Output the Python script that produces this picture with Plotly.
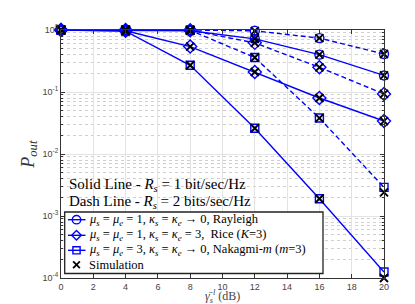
import plotly.graph_objects as go

snr_db = [0, 4, 8, 12, 16, 20]
ray_r1 = [1.0, 0.99, 0.97, 0.72, 0.40, 0.185]
ray_r2 = [1.0, 1.0, 1.0, 0.97, 0.74, 0.41]
rice_r1 = [1.0, 0.97, 0.54, 0.21, 0.080, 0.034]
rice_r2 = [1.0, 1.0, 0.99, 0.62, 0.25, 0.093]
nak_r1 = [1.0, 0.96, 0.27, 0.026, 0.0019, 1.25e-4]
nak_r2 = [1.0, 1.0, 0.99, 0.36, 0.038, 0.0029]
sim_nak_r1 = [1.0, 0.96, 0.27, 0.026, 0.0019, 1.0e-4]
sim_nak_r2 = [1.0, 1.0, 0.99, 0.36, 0.038, 0.0024]

legend_labels = [
    "<i>μ<sub>s</sub></i> = <i>μ<sub>e</sub></i> = 1, <i>κ<sub>s</sub></i> = <i>κ<sub>e</sub></i> → 0, Rayleigh",
    "<i>μ<sub>s</sub></i> = <i>μ<sub>e</sub></i> = 1, <i>κ<sub>s</sub></i> = <i>κ<sub>e</sub></i> = 3,  Rice (<i>K</i>=3)",
    "<i>μ<sub>s</sub></i> = <i>μ<sub>e</sub></i> = 3, <i>κ<sub>s</sub></i> = <i>κ<sub>e</sub></i> → 0, Nakagmi-<i>m</i> (<i>m</i>=3)",
    "Simulation",
]
symbols = ["circle-open", "diamond-open", "square-open"]
sizes = [9, 10, 8]

BLUE = "#0000FF"
SERIF = "Liberation Serif, DejaVu Serif, serif"
LW = 1.4

fig = go.Figure()

series = [(ray_r1, ray_r2), (rice_r1, rice_r2), (nak_r1, nak_r2)]
for (r1, r2), sym, sz, lab in zip(series, symbols, sizes, legend_labels):
    for vals, dash in ((r1, "solid"), (r2, "5px,3px")):
        fig.add_trace(go.Scatter(
            x=snr_db, y=vals, mode="lines+markers", name=lab, showlegend=False,
            line=dict(color=BLUE, width=LW, dash=dash),
            marker=dict(symbol=sym, size=sz, color=BLUE, line=dict(width=LW, color=BLUE)),
            cliponaxis=False))

sims = [ray_r1, ray_r2, rice_r1, rice_r2, sim_nak_r1, sim_nak_r2]
for s in sims:
    fig.add_trace(go.Scatter(
        x=snr_db, y=s, mode="markers", name=legend_labels[3], showlegend=False,
        marker=dict(symbol="x-thin-open", size=8, color="black", line=dict(width=1.9, color="black")),
        cliponaxis=False))

# ---- hand-drawn legend box, in pixel units over the plot area (x2/y2 overlay) ----
PW, PH = 323, 248
rows = [189.7, 205.3, 220.3, 234.7]
MX = 15.5
shapes = []
shapes.append(dict(type="rect", x0=3.7, x1=262, y0=182, y1=243.5,
                   line=dict(color="#222", width=1.3), fillcolor="white"))
for i in range(3):
    shapes.append(dict(type="line", x0=7, x1=24.5, y0=rows[i], y1=rows[i],
                       line=dict(color=BLUE, width=LW)))
r = 4.2
shapes.append(dict(type="circle", x0=MX - r, x1=MX + r, y0=rows[0] - r, y1=rows[0] + r,
                   line=dict(color=BLUE, width=LW), fillcolor="rgba(0,0,0,0)"))
d = 4.8
shapes.append(dict(type="path",
                   path=f"M {MX},{rows[1]-d} L {MX+d},{rows[1]} L {MX},{rows[1]+d} L {MX-d},{rows[1]} Z",
                   line=dict(color=BLUE, width=LW), fillcolor="rgba(0,0,0,0)"))
s = 3.6
shapes.append(dict(type="rect", x0=MX - s, x1=MX + s, y0=rows[2] - s, y1=rows[2] + s,
                   line=dict(color=BLUE, width=LW), fillcolor="rgba(0,0,0,0)"))
c = 3.4
shapes.append(dict(type="line", x0=MX - c, x1=MX + c, y0=rows[3] - c, y1=rows[3] + c,
                   line=dict(color="black", width=1.8)))
shapes.append(dict(type="line", x0=MX - c, x1=MX + c, y0=rows[3] + c, y1=rows[3] - c,
                   line=dict(color="black", width=1.8)))
for shp in shapes:
    fig.add_shape(xref="x2", yref="y2", layer="above", **shp)
for lab, ry in zip(legend_labels, rows):
    fig.add_annotation(text=lab, xref="x2", yref="y2", x=25.5, y=ry, xanchor="left",
                       yanchor="middle", showarrow=False,
                       font=dict(family=SERIF, size=12.5, color="black"))
# invisible anchor trace so the overlay axes exist
fig.add_trace(go.Scatter(x=[0, PW], y=[0, PH], xaxis="x2", yaxis="y2", mode="markers",
                         marker=dict(opacity=0), showlegend=False, hoverinfo="skip"))

fig.update_layout(
    width=415, height=304,
    margin=dict(l=53, r=39, t=22, b=34),
    paper_bgcolor="white", plot_bgcolor="white",
    showlegend=False,
    font=dict(family="Liberation Sans, Arial, sans-serif", size=9, color="#444"),
    xaxis2=dict(overlaying="x", range=[0, PW], visible=False, fixedrange=True),
    yaxis2=dict(overlaying="y", range=[PH, 0], visible=False, fixedrange=True),
)

fig.layout.xaxis.update(
    range=[0, 20], tickmode="array", tickvals=list(range(0, 21, 2)),
    ticks="inside", ticklen=4, tickcolor="#333", mirror="allticks",
    showline=True, linecolor="#333", linewidth=1,
    showgrid=True, gridcolor="#e3e3e3", gridwidth=1, zeroline=False,
    tickfont=dict(size=9, color="#444"),
)
fig.layout.yaxis.update(
    type="log", range=[-4, 0],
    tickmode="array", tickvals=[1e-4, 1e-3, 1e-2, 1e-1, 1],
    ticktext=["10<sup>-4</sup>", "10<sup>-3</sup>", "10<sup>-2</sup>", "10<sup>-1</sup>", "10<sup>0</sup>"],
    ticks="inside", ticklen=4, tickcolor="#333", mirror="allticks",
    showline=True, linecolor="#333", linewidth=1,
    showgrid=True, gridcolor="#e3e3e3", gridwidth=1, zeroline=False,
    minor=dict(ticks="inside", ticklen=2, tickcolor="#333", showgrid=True,
               gridcolor="#cfcfcf", griddash="dot", gridwidth=1,
               tickvals=[m * 10 ** e for e in range(-4, 0) for m in range(2, 10)]),
    tickfont=dict(size=9, color="#444"),
)

fig.add_annotation(
    text="<i>P</i><sub><i>out</i></sub>", xref="paper", yref="paper",
    x=-0.1, y=0.5, textangle=-90, showarrow=False,
    font=dict(family=SERIF, size=18, color="#333"), xanchor="center", yanchor="middle")
fig.add_annotation(
    text="<i>γ̄</i><sub><i>s</i></sub><sup><i>l</i></sup> (dB)", xref="paper", yref="paper",
    x=0.5, y=-0.076, showarrow=False, yanchor="middle",
    font=dict(family=SERIF, size=12, color="#444"))
fig.add_annotation(
    text="Solid Line - <i>R<sub>s</sub></i> = 1 bit/sec/Hz", xref="paper", yref="paper",
    x=0.02, y=(270 - 177) / 248, xanchor="left", yanchor="middle", showarrow=False,
    font=dict(family=SERIF, size=15, color="black"))
fig.add_annotation(
    text="Dash Line - <i>R<sub>s</sub></i> = 2 bits/sec/Hz", xref="paper", yref="paper",
    x=0.02, y=(270 - 193.5) / 248, xanchor="left", yanchor="middle", showarrow=False,
    font=dict(family=SERIF, size=15, color="black"))

fig.write_html("out.html")
